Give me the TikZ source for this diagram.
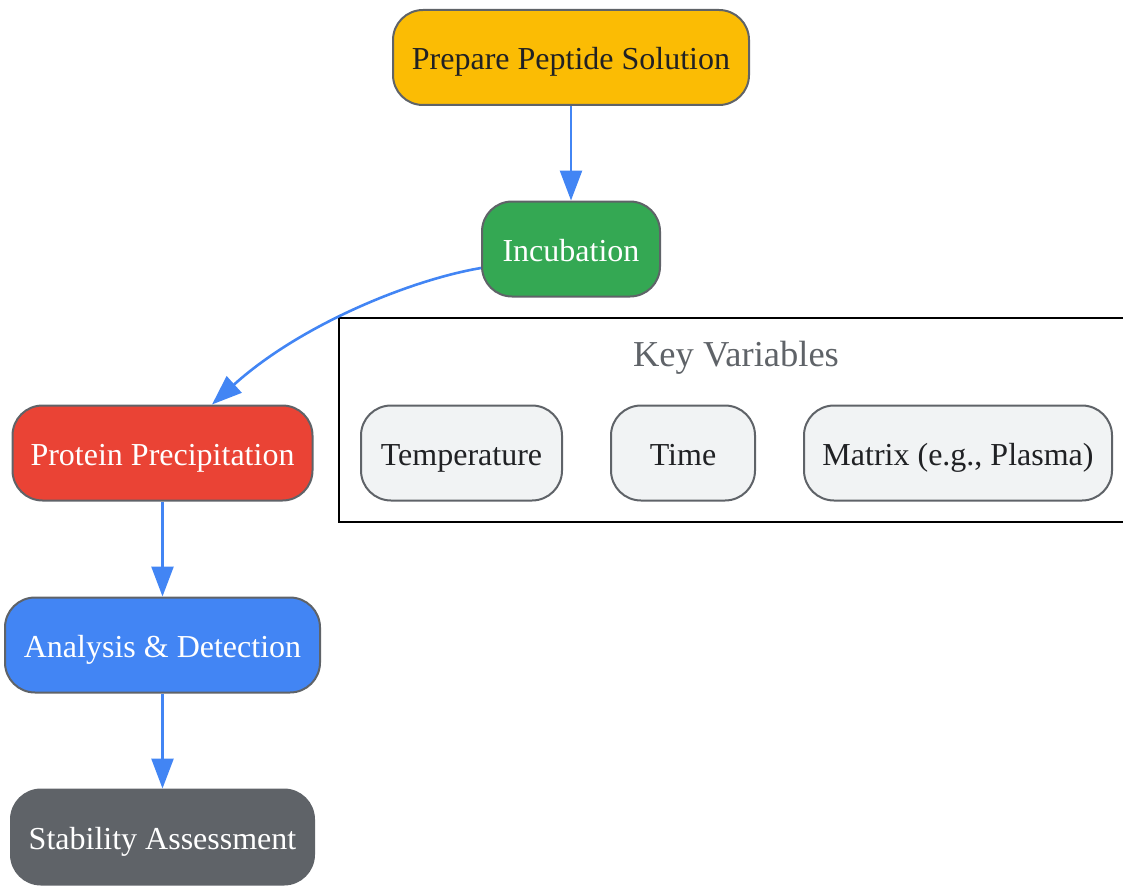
\documentclass[tikz,border=0pt]{standalone}
\usepackage{fontspec}
\setmainfont{Liberation Serif}
\usetikzlibrary{arrows.meta}
\definecolor{cyellow}{HTML}{FBBC04}
\definecolor{cgreen}{HTML}{34A853}
\definecolor{cred}{HTML}{EA4335}
\definecolor{cblue}{HTML}{4285F4}
\definecolor{cgray}{HTML}{5F6368}
\definecolor{clight}{HTML}{F1F3F4}
\definecolor{ctext}{HTML}{202124}
\tikzset{
  stepbox/.style={draw=cgray, line width=2pt, rounded corners=30pt, inner sep=0pt,
    minimum height=95pt, text height=25pt, text depth=0pt,
    font=\fontsize{32}{36}\selectfont, align=center},
  darkbox/.style={stepbox, text=white},
  lightbox/.style={stepbox, fill=clight, text=ctext},
  flow/.style={draw=cblue, line width=2.6pt, -{Triangle[length=30pt,width=22pt]}},
}
\begin{document}
\begin{tikzpicture}[x=1pt,y=-1pt]
\useasboundingbox (0,0) rectangle (1123,888);
% cluster
\draw[black, line width=2.2pt] (339,318) rectangle (1126,522);
\node[text=cgray, font=\fontsize{36.5}{40}\selectfont, anchor=base, inner sep=0pt] (title) at (736,366) {Key Variables};
% nodes
\node[stepbox, fill=cyellow, text=ctext, minimum width=356pt] (prep) at (571,57.5) {Prepare Peptide Solution};
\node[darkbox, fill=cgreen, minimum width=178pt] (inc) at (571,249) {Incubation};
\node[darkbox, fill=cred, minimum width=300pt] (prot) at (162.5,453) {Protein Precipitation};
\node[darkbox, fill=cblue, minimum width=315pt] (ana) at (162.5,645) {Analysis \& Detection};
\node[darkbox, fill=cgray, minimum width=303pt] (stab) at (162.5,837) {Stability Assessment};
\node[lightbox, minimum width=201pt] (temp) at (461.5,453) {Temperature};
\node[lightbox, minimum width=144pt] (time) at (683,453) {Time};
\node[lightbox, minimum width=308pt] (mat) at (958,453) {Matrix (e.g., Plasma)};
% edges
\draw[flow] (prep) -- (inc);
\draw[flow] ([yshift=-19pt]inc.west) .. controls (410,280) and (300,325) .. ([xshift=49.5pt]prot.north);
\draw[flow] (prot) -- (ana);
\draw[flow] (ana) -- (stab);
\end{tikzpicture}
\end{document}
